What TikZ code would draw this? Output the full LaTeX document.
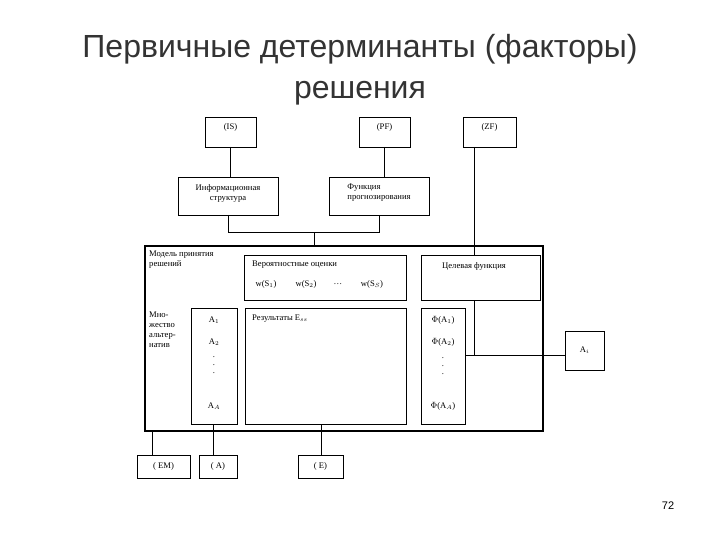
\documentclass[tikz,border=0pt]{standalone}
\usepackage{fontspec}
\setmainfont{Liberation Serif}
\newfontfamily\titlefont{Liberation Sans}
\begin{document}
\begin{tikzpicture}[x=1pt,y=-1pt,
  bx/.style={draw,line width=0.9pt},
  ln/.style={line width=0.9pt},
  tx/.style={font=\fontsize{8.6}{10}\selectfont,align=left,inner sep=0pt}]
\useasboundingbox (0,0) rectangle (720,540);
\node[font=\titlefont\fontsize{32}{41}\selectfont,align=center,text=black!80] (title) at (360,70) {Первичные детерминанты (факторы)\\решения};
\node[font=\titlefont\fontsize{11}{13}\selectfont] (num) at (668,506) {72};
% top boxes
\draw[bx] (205,117) rectangle (256,147); \node[tx] (is) at (230.5,127) {(IS)};
\draw[bx] (359,117) rectangle (410,147); \node[tx] (pf) at (384.5,127) {(PF)};
\draw[bx] (463,117) rectangle (516,147); \node[tx] (zf) at (489.5,127) {(ZF)};
\draw[bx] (178,177) rectangle (278,215); \node[tx,align=center] (info) at (228,193) {Информационная\\структура};
\draw[bx] (329,177) rectangle (429,215); \node[tx] (fp) at (379,193) {Функция\\прогнозирования};
\draw[ln] (230,147) -- (230,177);
\draw[ln] (384,147) -- (384,177);
\draw[ln] (228,215) -- (228,232) -- (379,232) -- (379,215);
\draw[ln] (314,232) -- (314,246);
% big box
\draw[bx,line width=1.3pt] (145,246) rectangle (543,431);
\node[tx,anchor=north west] (model) at (149,251) {Модель принятия\\решений};
\draw[bx] (244,255) rectangle (406,300);
\node[tx,anchor=north west] (prob) at (252,261) {Вероятностные оценки};
\node[tx] (w1) at (266,284) {w(S$_1$)};
\node[tx] (w2) at (306,284) {w(S$_2$)};
\node[tx] (wd) at (338,284) {\dots};
\node[tx] (w3) at (372,284) {w(S$_S$)};
\draw[bx] (421,255) rectangle (540,300);
\node[tx] (cf) at (474,266) {Целевая функция};
\draw[ln] (474,147) -- (474,255);
% lower inner
\node[tx,anchor=north west] (mn) at (149,312) {Мно-\\жество\\альтер-\\натив};
\draw[bx] (191,308) rectangle (237,424);
\node[tx] (a1) at (214,320) {A$_1$};
\node[tx] (a2) at (214,342) {A$_2$};
\node[tx] (ad) at (214,365) {.\\[-2pt].\\[-2pt].};
\node[tx] (aa) at (214,406) {A$_A$};
\draw[bx] (245,308) rectangle (406,424);
\node[tx,anchor=north west] (res) at (252,315) {Результаты E$_{ss}$};
\draw[bx] (421,308) rectangle (465,424);
\node[tx] (f1) at (443,320) {$\Phi$(A$_1$)};
\node[tx] (f2) at (443,342) {$\Phi$(A$_2$)};
\node[tx] (fd) at (443,366) {.\\[-2pt].\\[-2pt].};
\node[tx] (fa) at (443,406) {$\Phi$(A$_A$)};
\draw[bx] (565,331) rectangle (604,370); \node[tx] (ai) at (584.5,350) {A$_i$};
\draw[ln] (474,300) -- (474,355) -- (565,355);
\draw[ln] (465,355) -- (474,355);
% bottom
\draw[bx] (137,455) rectangle (190,478); \node[tx] (em) at (163.5,466.5) {( EM)};
\draw[bx] (199,455) rectangle (237,478); \node[tx] (a) at (218,466.5) {( A)};
\draw[bx] (298,455) rectangle (343,478); \node[tx] (e) at (320.5,466.5) {( E)};
\draw[ln] (152,431) -- (152,455);
\draw[ln] (213,424) -- (213,455);
\draw[ln] (321,424) -- (321,455);
\end{tikzpicture}
\end{document}
